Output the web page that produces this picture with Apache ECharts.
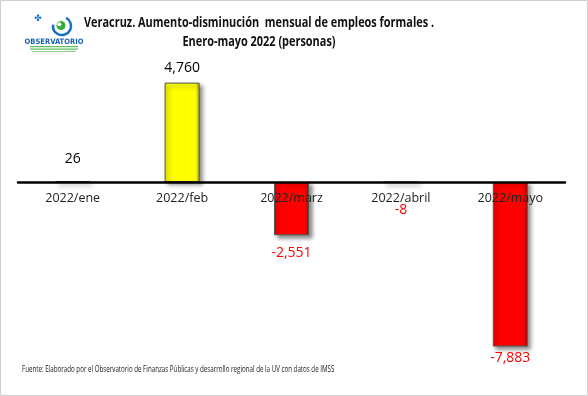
<!DOCTYPE html>
<html><head><meta charset="utf-8">
<script src="https://cdn.jsdelivr.net/npm/echarts@6/dist/echarts.min.js"></script>
<style>html,body{margin:0;padding:0;background:#fff}#c{width:588px;height:396px}</style>
</head><body><div id="c"></div>
<script>
var categories = ['2022/ene','2022/feb','2022/marz','2022/abril','2022/mayo'];
var values = [26, 4760, -2551, -8, -7883];
var labelDistances = [15, 8, 11, 20, 4];
var titleLines = ['Veracruz. Aumento-disminución  mensual de empleos formales .', 'Enero-mayo 2022 (personas)'];
var footer = 'Fuente: Elaborado por el Observatorio de Finanzas Públicas y desarrollo regional de la UV con datos de IMSS';

var chart = echarts.init(document.getElementById('c'), null, {renderer:'canvas'});
var FONT = 'Open Sans';
function bevel(edgeL, mid, edgeR){
  return {type: 'linear', x: 0, y: 0, x2: 1, y2: 0, colorStops: [
    {offset: 0, color: edgeL}, {offset: 0.1, color: mid}, {offset: 0.88, color: mid}, {offset: 1, color: edgeR}]};
}
var data = values.map(function(v, i){
  var pos = v >= 0;
  return {
    value: v,
    itemStyle: {color: pos ? bevel('#dede00', '#FFFF00', '#b8b800') : bevel('#d80000', '#FF0000', '#b00000')},
    label: {
      position: pos ? 'top' : 'bottom',
      distance: labelDistances[i],
      color: pos ? '#000000' : '#FF0000'
    }
  };
});
chart.setOption({
  animation: false,
  backgroundColor: '#fff',
  grid: {left: 18, right: 23, top: 77.6, bottom: 396 - 349},
  xAxis: {
    type: 'category', data: categories, z: 3,
    axisLine: {onZero: true, lineStyle: {color: '#000', width: 2.5}},
    axisTick: {show: false},
    axisLabel: {color: '#222', fontFamily: FONT, fontSize: 12.5, margin: -157, interval: 0}
  },
  yAxis: {type: 'value', min: -8000, max: 5000, show: true,
    axisLine: {show: false}, axisTick: {show: false}, axisLabel: {show: false}, splitLine: {show: false}},
  series: [{
    type: 'bar', data: data, barWidth: 35, z: 1,
    itemStyle: {borderColor: '#555', borderWidth: 1, shadowColor: 'rgba(0,0,0,0.45)', shadowBlur: 4, shadowOffsetX: 3, shadowOffsetY: 3},
    label: {show: true, fontFamily: FONT, fontSize: 14,
      formatter: function(p){ return p.value.toLocaleString('en-US'); }}
  }],
  graphic: [
    {type: 'rect', shape: {x: 0.5, y: 0.5, width: 587, height: 395}, style: {fill: 'none', stroke: '#d0d0d0', lineWidth: 1}, silent: true},
    {type: 'text', x: 259, y: 23, scaleX: 0.78, style: {text: titleLines[0], font: 'bold 14px "Open Sans"', fill: '#111', textAlign: 'center', textVerticalAlign: 'middle'}},
    {type: 'text', x: 259, y: 42, scaleX: 0.78, style: {text: titleLines[1], font: 'bold 14px "Open Sans"', fill: '#111', textAlign: 'center', textVerticalAlign: 'middle'}},
    {type: 'text', x: 22, y: 370, scaleX: 0.73, style: {text: footer, font: '8.5px "Open Sans"', fill: '#222', textVerticalAlign: 'middle'}},
    // logo
    {type: 'arc', shape: {cx: 62, cy: 26, r: 9, startAngle: -1.1, endAngle: 3.3, clockwise: true}, style: {stroke: '#1a6fc0', lineWidth: 2.5, fill: 'none'}},
    {type: 'circle', shape: {cx: 61, cy: 25.5, r: 4.5}, style: {fill: '#2fae3a'}},
    {type: 'circle', shape: {cx: 59.3, cy: 24.2, r: 2}, style: {fill: '#fff'}},
    {type: 'text', x: 38, y: 19, style: {text: '✤', font: 'bold 9px "DejaVu Sans"', fill: '#1a6fc0', textAlign: 'center', textVerticalAlign: 'middle'}},
    {type: 'text', x: 54, y: 42, scaleX: 0.9, style: {text: 'OBSERVATORIO', font: 'bold 7.5px "DejaVu Sans"', fill: '#1a5fb0', textAlign: 'center', textVerticalAlign: 'middle'}},
    {type: 'rect', shape: {x: 30, y: 46, width: 48, height: 1.3}, style: {fill: '#5cbf5c'}},
    {type: 'rect', shape: {x: 30, y: 48.5, width: 48, height: 1.3}, style: {fill: '#5cbf5c'}},
    {type: 'rect', shape: {x: 32, y: 51, width: 44, height: 1}, style: {fill: '#8ccf8c'}}
  ]
});
</script></body></html>
